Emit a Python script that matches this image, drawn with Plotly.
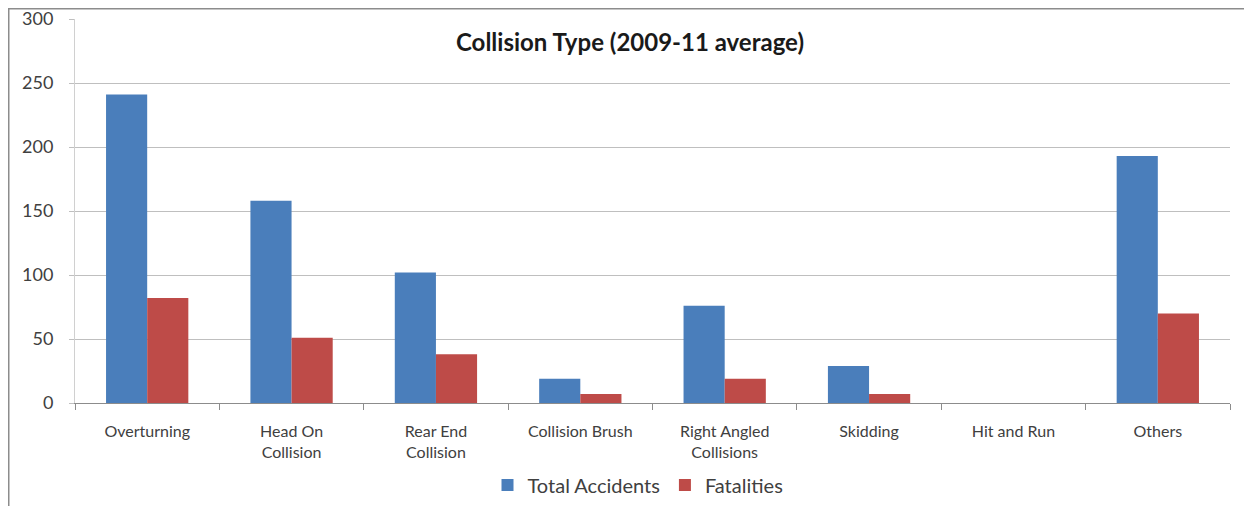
import plotly.graph_objects as go

categories = ["Overturning", "Head On<br>Collision", "Rear End<br>Collision", "Collision Brush",
              "Right Angled<br>Collisions", "Skidding", "Hit and Run", "Others"]
total_accidents = [241, 158, 102, 19, 76, 29, 0, 193]
fatalities = [82, 51, 38, 7, 19, 7, 0, 70]
y_ticks = [0, 50, 100, 150, 200, 250, 300]

# page body has an 8px margin, so the figure is sized/positioned to compensate
W, H = 1244, 498
L, R, T, B = 67, 22, 11, 103
pw, ph = W - L - R, H - T - B

font_family = "Lato, 'Open Sans', sans-serif"

fig = go.Figure()
fig.add_trace(go.Bar(name="Total Accidents", x=categories, y=total_accidents,
                     marker=dict(color="#4a7ebb", line=dict(width=0))))
fig.add_trace(go.Bar(name="Fatalities", x=categories, y=fatalities,
                     marker=dict(color="#be4b48", line=dict(width=0))))


def px_x(p):
    return (p - L) / pw


def px_y(p):
    return (H - B - p) / ph


fig.update_layout(
    width=W, height=H,
    margin=dict(l=L, r=R, t=T, b=B, autoexpand=False),
    paper_bgcolor="white", plot_bgcolor="white",
    barmode="group", bargap=0.43, bargroupgap=0,
    font=dict(family=font_family, size=16, color="#404040"),
    title=dict(text="<b>Collision Type (2009-11 average)</b>", x=px_x(622), xref="paper",
               xanchor="center", y=1 - 35 / H, yref="container", yanchor="middle",
               font=dict(size=24, color="#1a1a1a", family=font_family)),
    xaxis=dict(showgrid=False, showline=True, linecolor="#8c8c8c", linewidth=1,
               ticks="outside", tickson="boundaries", ticklen=6, tickcolor="#8c8c8c",
               ticklabelstandoff=14, ticklabeloverflow="allow",
               tickfont=dict(size=16, color="#404040")),
    yaxis=dict(range=[0, 300], tickvals=y_ticks, showgrid=True, gridcolor="#bfbfbf",
               gridwidth=1, showline=True, linecolor="#d0d0d0", ticks="outside",
               ticklen=5, tickcolor="#bfbfbf", zeroline=False, ticklabelstandoff=12,
               ticklabeloverflow="allow",
               tickfont=dict(size=18, color="#404040")),
    legend=dict(orientation="h", x=px_x(630), xanchor="center", xref="paper",
                y=1 - 477 / H, yref="container", yanchor="middle",
                font=dict(size=20, color="#404040"), traceorder="normal"),
    showlegend=True,
    shapes=[
        dict(type="line", xref="paper", yref="paper", x0=px_x(0.75), x1=px_x(0.75), y0=px_y(H), y1=px_y(0.75),
             line=dict(color="#8c8c8c", width=1.5)),
        dict(type="line", xref="paper", yref="paper", x0=px_x(0), x1=px_x(W), y0=px_y(0.75), y1=px_y(0.75),
             line=dict(color="#8c8c8c", width=1.5)),
    ],
)

fig.write_html("out.html")
